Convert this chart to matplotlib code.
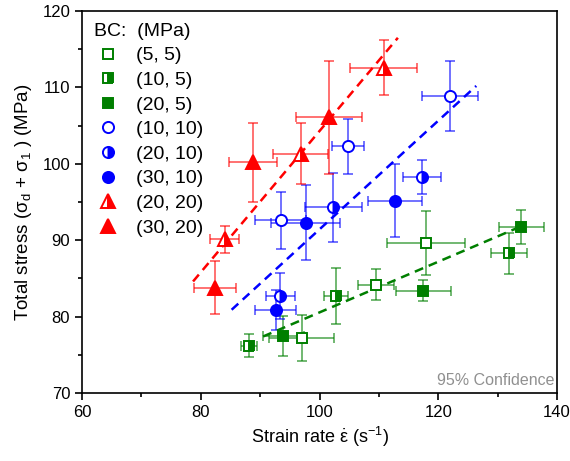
# -*- coding: utf-8 -*-

import numpy as np
import matplotlib.pyplot as plt
from matplotlib.colors import to_rgba

plt.rcParams['font.family'] = ['Liberation Sans', 'DejaVu Sans']
plt.rcParams['mathtext.fontset'] = 'custom'
plt.rcParams['mathtext.rm'] = 'Liberation Sans'
plt.rcParams['mathtext.it'] = 'Liberation Sans:italic'

# BC labels (MPa)
labels = ['(5, 5)', '(10, 5)', '(20, 5)', '(10, 10)', '(20, 10)', '(30, 10)', '(20, 20)', '(30, 20)']

# strain rate (1/s), total stress (MPa), errors
rate_5_5 = [97.0, 109.5, 117.9]
stress_5_5 = [77.2, 84.2, 89.6]
xerr_5_5 = [5.5, 3.0, 6.6]
yerr_5_5 = [3.0, 2.0, 4.2]

rate_10_5 = [88.1, 102.8, 131.9]
stress_10_5 = [76.2, 82.7, 88.3]
xerr_10_5 = [1.4, 2.0, 3.0]
yerr_10_5 = [1.5, 3.7, 2.7]

rate_20_5 = [93.9, 117.5, 134.0]
stress_20_5 = [77.5, 83.4, 91.7]
xerr_20_5 = [3.5, 4.7, 3.8]
yerr_20_5 = [2.6, 1.4, 2.2]

rate_10_10 = [93.5, 104.8, 122.0]
stress_10_10 = [92.6, 102.3, 108.9]
xerr_10_10 = [4.3, 2.7, 4.7]
yerr_10_10 = [3.7, 3.6, 4.6]

rate_20_10 = [93.4, 102.3, 117.2]
stress_20_10 = [82.7, 94.3, 98.3]
xerr_20_10 = [2.4, 4.8, 3.2]
yerr_20_10 = [3.0, 4.5, 2.2]

rate_30_10 = [92.6, 97.7, 112.7]
stress_30_10 = [80.9, 92.3, 95.2]
xerr_30_10 = [3.4, 5.8, 4.5]
yerr_30_10 = [2.6, 4.9, 4.8]

rate_20_20 = [84.0, 96.8, 110.8]
stress_20_20 = [90.1, 101.3, 112.6]
xerr_20_20 = [2.5, 4.6, 5.6]
yerr_20_20 = [1.8, 4.0, 3.6]

rate_30_20 = [82.4, 88.8, 101.6]
stress_30_20 = [83.8, 100.2, 106.1]
xerr_30_20 = [3.6, 4.1, 5.6]
yerr_30_20 = [3.5, 5.2, 7.4]

# fit lines (end points)
fit_green_x = [90.5, 133.0]
fit_green_y = [77.4, 91.5]
fit_blue_x = [85.2, 126.4]
fit_blue_y = [80.9, 110.2]
fit_red_x = [78.7, 113.2]
fit_red_y = [84.6, 116.5]

green = '#007F00'
blue = '#0000FF'
red = '#FF0000'

series = [
    (rate_5_5, stress_5_5, xerr_5_5, yerr_5_5, green, 's', 'none', 6.5),
    (rate_10_5, stress_10_5, xerr_10_5, yerr_10_5, green, 's', 'right', 6.5),
    (rate_20_5, stress_20_5, xerr_20_5, yerr_20_5, green, 's', 'full', 6.5),
    (rate_10_10, stress_10_10, xerr_10_10, yerr_10_10, blue, 'o', 'none', 8),
    (rate_20_10, stress_20_10, xerr_20_10, yerr_20_10, blue, 'o', 'right', 8),
    (rate_30_10, stress_30_10, xerr_30_10, yerr_30_10, blue, 'o', 'full', 8),
    (rate_20_20, stress_20_20, xerr_20_20, yerr_20_20, red, '^', 'right', 9.5),
    (rate_30_20, stress_30_20, xerr_30_20, yerr_30_20, red, '^', 'full', 9.5),
]

fig = plt.figure(figsize=(5.7, 4.61), dpi=100)
ax = fig.add_axes([0.1439, 0.1475, 0.8333, 0.8285])

for x, y, xe, ye, c, m, fs, ms in series:
    ax.errorbar(x, y, xerr=xe, yerr=ye, fmt='none', ecolor=to_rgba(c, 0.6),
                elinewidth=1.3, capsize=3.5, capthick=1.3, zorder=2)

ax.plot(fit_green_x, fit_green_y, color=green, ls=(0, (3.6, 2.4)), lw=1.8, zorder=3)
ax.plot(fit_blue_x, fit_blue_y, color=blue, ls=(0, (3.6, 2.4)), lw=1.8, zorder=3)
ax.plot(fit_red_x, fit_red_y, color=red, ls=(0, (3.6, 2.4)), lw=1.8, zorder=3)

for (x, y, xe, ye, c, m, fs, ms), lab in zip(series, labels):
    if fs == 'none':
        ax.plot(x, y, ls='none', marker=m, ms=ms, mfc='white', mec=c, mew=1.4,
                label=lab, zorder=4)
    else:
        ax.plot(x, y, ls='none', marker=m, ms=ms, color=c, mec=c, mew=1.4,
                fillstyle=fs, markerfacecoloralt='white', label=lab, zorder=4)

ax.set_xlim(60, 140)
ax.set_ylim(70, 120)
ax.set_xticks([60, 80, 100, 120, 140])
ax.set_xticks([70, 90, 110, 130], minor=True)
ax.set_yticks([70, 80, 90, 100, 110, 120])
ax.set_yticks([75, 85, 95, 105, 115], minor=True)
ax.tick_params(which='major', direction='out', length=5, width=1.2, labelsize=12)
ax.tick_params(which='minor', direction='out', length=3, width=1.2)
for s in ax.spines.values():
    s.set_linewidth(1.2)

ax.set_xlabel(r'Strain rate $\dot{\mathrm{\varepsilon}}$ (s$^{-1}$)', fontsize=13, labelpad=4)
ax.set_ylabel(r'Total stress ($\mathrm{\sigma_d}$ + $\mathrm{\sigma_1}$ ) (MPa)', fontsize=13.5,
              labelpad=6)

leg = ax.legend(loc='upper left', frameon=False, title='BC:  (MPa)', fontsize=14,
                title_fontsize=14, handletextpad=0.7, labelspacing=0.36,
                borderaxespad=0.2, handlelength=1.5)
leg._legend_box.align = 'left'

ax.text(0.995, 0.012, '95% Confidence', transform=ax.transAxes, ha='right', va='bottom',
        color='#909090', fontsize=11.5)

plt.savefig('out.png', dpi=100)
